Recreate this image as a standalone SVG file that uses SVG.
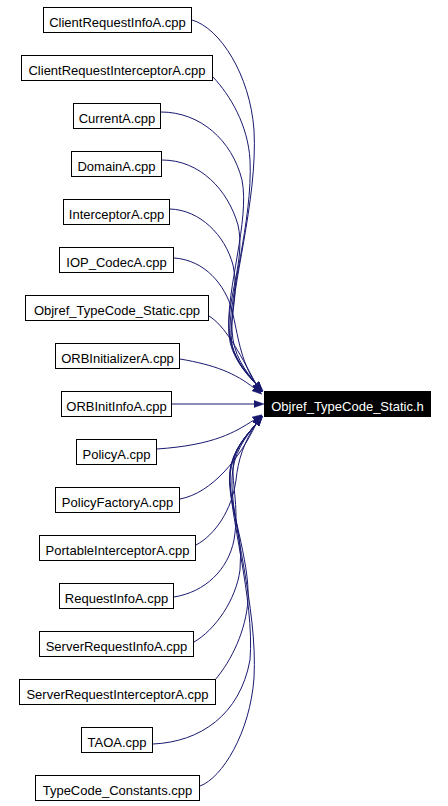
<svg xmlns="http://www.w3.org/2000/svg" width="448" height="806" viewBox="0 0 448 806">
<style>
.n rect{fill:#fff;stroke:#000;stroke-width:1}
.n text{font-family:"Liberation Sans",Arial,sans-serif;font-size:13px;text-anchor:middle;fill:#000}
#target rect{fill:#000;stroke:#000}
#target text{fill:#fff}
.e path{fill:none;stroke:#191970;stroke-width:1;marker-end:url(#ah)}
</style>
<defs>
<marker id="ah" markerUnits="userSpaceOnUse" markerWidth="10" markerHeight="8" viewBox="0 0 10 8" refX="0" refY="4" orient="auto">
<path d="M0,0.5 L10,4 L0,7.5 z" fill="#191970" stroke="#191970" stroke-width="0.5"/>
</marker>
</defs>
<rect width="448" height="806" fill="#fff"/>
<g id="edges" class="e">
<path d="M192,20 C220,28 250,75 254,130 C258,200 230,290 232,330 C233,355 245,370 256,384"/>
<path d="M213,77 C230,95 248,125 250,160 C253,220 228,300 230,335 C232,358 246,372 256,384"/>
<path d="M161,112 C200,112 232,140 242,180 C250,220 226,290 229,330 C231,356 246,372 256,384"/>
<path d="M162,160 C200,160 228,190 238,225 C246,260 226,300 229,335 C231,358 246,372 256,384"/>
<path d="M170,209 C200,210 225,235 233,265 C240,295 228,320 232,345 C236,362 246,374 256,384"/>
<path d="M174,258 C205,260 225,285 232,310 C238,335 240,360 256,384"/>
<path d="M209,316 C225,326 238,350 256,384"/>
<path d="M180,359 C215,365 235,373 254,388"/>
<path d="M172,404 L254,404"/>
<path d="M157,449 C215,445 235,432 254,420"/>
<path d="M180,499 C212,493 240,458 256,424"/>
<path d="M196,545 C215,535 232,510 236,480 C238,460 244,442 256,424"/>
<path d="M174,597 C205,592 228,570 234,540 C240,505 230,480 234,460 C237,445 246,436 256,424"/>
<path d="M194,642 C215,630 236,600 240,570 C244,530 226,500 230,470 C233,450 246,436 256,424"/>
<path d="M215,680 C232,660 246,630 248,600 C250,560 228,505 230,473 C232,450 246,436 256,424"/>
<path d="M153,744 C200,742 240,715 250,660 C255,600 228,510 230,475 C232,452 246,436 256,424"/>
<path d="M200,786 C222,778 250,733 254,678 C258,608 230,518 232,478 C233,453 245,438 256,424"/>
</g>
<g id="target" class="n"><rect x="264.5" y="391.5" width="166" height="25"/><text x="347.5" y="410.5">Objref_TypeCode_Static.h</text></g>
<g id="n1" class="n"><rect x="43.5" y="7.5" width="148" height="25"/><text x="117.5" y="26.5">ClientRequestInfoA.cpp</text></g>
<g id="n2" class="n"><rect x="21.5" y="55.5" width="191" height="25"/><text x="117" y="74.5">ClientRequestInterceptorA.cpp</text></g>
<g id="n3" class="n"><rect x="73.5" y="103.5" width="87" height="25"/><text x="117" y="122.5">CurrentA.cpp</text></g>
<g id="n4" class="n"><rect x="71.5" y="151.5" width="90" height="25"/><text x="116.5" y="170.5">DomainA.cpp</text></g>
<g id="n5" class="n"><rect x="63.5" y="199.5" width="106" height="25"/><text x="116.5" y="218.5">InterceptorA.cpp</text></g>
<g id="n6" class="n"><rect x="59.5" y="247.5" width="114" height="25"/><text x="116.5" y="266.5">IOP_CodecA.cpp</text></g>
<g id="n7" class="n"><rect x="25.5" y="295.5" width="183" height="25"/><text x="117" y="314.5">Objref_TypeCode_Static.cpp</text></g>
<g id="n8" class="n"><rect x="55.5" y="343.5" width="124" height="25"/><text x="117.5" y="362.5">ORBInitializerA.cpp</text></g>
<g id="n9" class="n"><rect x="61.5" y="391.5" width="110" height="25"/><text x="116.5" y="410.5">ORBInitInfoA.cpp</text></g>
<g id="n10" class="n"><rect x="76.5" y="439.5" width="80" height="25"/><text x="116.5" y="458.5">PolicyA.cpp</text></g>
<g id="n11" class="n"><rect x="55.5" y="487.5" width="124" height="25"/><text x="117.5" y="506.5">PolicyFactoryA.cpp</text></g>
<g id="n12" class="n"><rect x="39.5" y="535.5" width="156" height="25"/><text x="117.5" y="554.5">PortableInterceptorA.cpp</text></g>
<g id="n13" class="n"><rect x="59.5" y="583.5" width="114" height="25"/><text x="116.5" y="602.5">RequestInfoA.cpp</text></g>
<g id="n14" class="n"><rect x="39.5" y="631.5" width="154" height="25"/><text x="116.5" y="650.5">ServerRequestInfoA.cpp</text></g>
<g id="n15" class="n"><rect x="19.5" y="679.5" width="196" height="25"/><text x="117.5" y="698.5">ServerRequestInterceptorA.cpp</text></g>
<g id="n16" class="n"><rect x="81.5" y="727.5" width="71" height="25"/><text x="117" y="746.5">TAOA.cpp</text></g>
<g id="n17" class="n"><rect x="35.5" y="775.5" width="164" height="25"/><text x="117.5" y="794.5">TypeCode_Constants.cpp</text></g>
</svg>
